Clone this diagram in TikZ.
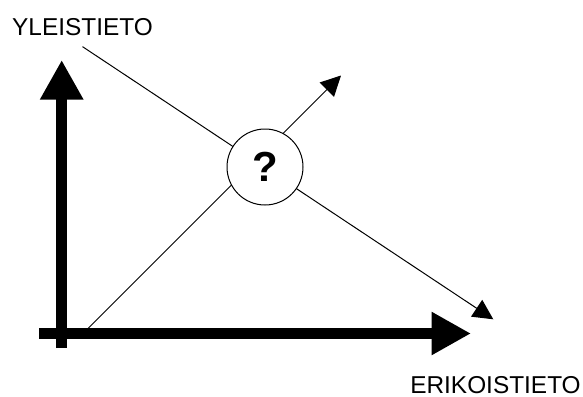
\documentclass[tikz,border=0pt]{standalone}
\usepackage{fontspec}
\setmainfont{Liberation Sans}
\usetikzlibrary{arrows.meta}
\begin{document}
\begin{tikzpicture}[
x=0.5pt, y=-0.5pt,
axis/.style={
  line width=5.65pt,
  -{Triangle[length=19.75pt,width=20.3pt]}
  },
guide/.style={
  line width=0.5pt,
  -{Triangle[length=10pt,width=10pt]}
  },
txt/.style={
  font=\fontsize{12.2}{14}\selectfont,
  inner xsep=0pt,
  inner ysep=5.5pt,
  anchor=base
  },
ask/.style={
  draw,
  circle,
  fill=white,
  line width=0.5pt,
  minimum size=38pt,
  inner sep=0pt,
  font=\fontsize{21}{24}\selectfont\bfseries
  }
]
\useasboundingbox (0,0) rectangle (583,396);
\node[txt] (yl) at (82.5,35) {YLEISTIETO};
\node[txt, inner ysep=0pt] (er) at (495.5,393) {ERIKOISTIETO};
\coordinate (ybot) at (61.7,348);
\coordinate (ytop) at (61.7,60);
\coordinate (xleft) at (39,333.5);
\coordinate (xright) at (471,333.5);
\coordinate (base) at (83,333.5);
\coordinate (ne) at (341,75.5);
\coordinate (se) at (493.3,319.3);
% the two guide lines
\draw[guide] (yl.south) -- (se);
\draw[guide] (base) -- (ne);
% axes
\draw[axis] (ybot) -- (ytop);
\draw[axis] (xleft) -- (xright);
\node[ask] (q) at (265,167) {?};
\end{tikzpicture}
\end{document}
